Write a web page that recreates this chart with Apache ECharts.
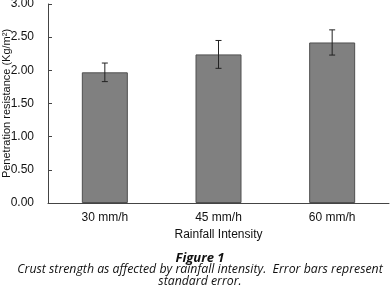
<!DOCTYPE html>
<html>
<head>
<meta charset="utf-8">
<script src="https://cdn.jsdelivr.net/npm/echarts@6/dist/echarts.min.js"></script>
<style>
  html, body { margin: 0; padding: 0; background: #fff; }
  #chart { width: 390px; height: 295px; }
</style>
</head>
<body>
<div id="chart"></div>
<script>
// values
var categories = ['30 mm/h', '45 mm/h', '60 mm/h'];
var means = [1.97, 2.24, 2.42];
var stdErr = [0.14, 0.21, 0.19];
var yTicks = [0, 0.5, 1, 1.5, 2, 2.5, 3];

var errData = means.map(function (m, i) {
    return [i, m - stdErr[i], m + stdErr[i]];
});

var chart = echarts.init(document.getElementById('chart'), null, { renderer: 'canvas' });

var captionStyle = { fontFamily: 'Open Sans', fontStyle: 'italic', fontWeight: 'normal', fontSize: 12.3, color: '#111' };

chart.setOption({
    animation: false,
    textStyle: { fontFamily: 'Liberation Sans, Arial, sans-serif' },
    grid: {
        left: 48, right: 1, top: 4, bottom: 92,
        containLabel: false,
        outerBoundsMode: 'none'
    },
    title: [{
        text: 'Figure 1',
        left: 195, top: 247,
        textAlign: 'center',
        textStyle: { fontFamily: 'Open Sans', fontStyle: 'italic', fontWeight: 'bold', fontSize: 13, color: '#111' }
    }, {
        text: 'Crust strength as affected by rainfall intensity.  Error bars represent',
        left: 195, top: 258,
        textAlign: 'center',
        textStyle: captionStyle
    }, {
        text: 'standard error.',
        left: 195, top: 270,
        textAlign: 'center',
        textStyle: captionStyle
    }],
    xAxis: {
        type: 'category',
        data: categories,
        name: 'Rainfall Intensity',
        nameLocation: 'middle',
        nameGap: 26,
        nameTextStyle: { fontSize: 12, color: '#111' },
        axisLine: { lineStyle: { color: '#444' } },
        axisTick: { inside: true, length: 4, lineStyle: { color: '#444' } },
        axisLabel: { fontSize: 12, color: '#111', margin: 9 }
    },
    yAxis: {
        type: 'value',
        min: 0, max: 3, interval: 0.5,
        name: 'Penetration resistance (Kg/m²)',
        nameLocation: 'middle',
        nameGap: 36,
        nameMoveOverlap: false,
        nameTextStyle: { fontSize: 11, color: '#111' },
        splitLine: { show: false },
        axisLine: { show: true, lineStyle: { color: '#444' } },
        axisTick: { show: true, inside: true, length: 4, lineStyle: { color: '#444' } },
        axisLabel: {
            fontSize: 12, color: '#111', margin: 14,
            formatter: function (v) { return yTicks.indexOf(v) >= 0 ? v.toFixed(2) : ''; }
        }
    },
    series: [{
        type: 'bar',
        data: means,
        barWidth: 46,
        itemStyle: { color: '#808080', borderColor: '#505050', borderWidth: 1 }
    }, {
        type: 'custom',
        data: errData,
        z: 10,
        renderItem: function (params, api) {
            var x = api.value(0);
            var lo = api.coord([x, api.value(1)]);
            var hi = api.coord([x, api.value(2)]);
            var cap = 3;
            var style = { stroke: '#222', lineWidth: 1 };
            return {
                type: 'group',
                children: [
                    { type: 'line', shape: { x1: hi[0], y1: hi[1], x2: lo[0], y2: lo[1] }, style: style },
                    { type: 'line', shape: { x1: hi[0] - cap, y1: hi[1], x2: hi[0] + cap, y2: hi[1] }, style: style },
                    { type: 'line', shape: { x1: lo[0] - cap, y1: lo[1], x2: lo[0] + cap, y2: lo[1] }, style: style }
                ]
            };
        }
    }]
});
</script>
</body>
</html>
